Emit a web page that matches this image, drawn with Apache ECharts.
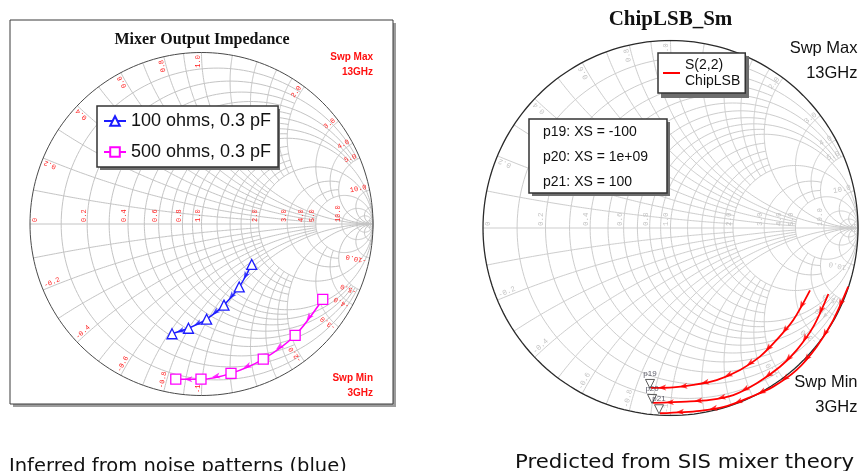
<!DOCTYPE html>
<html><head><meta charset="utf-8">
<script src="https://cdn.jsdelivr.net/npm/echarts@6/dist/echarts.min.js"></script>
<style>html,body{margin:0;padding:0;background:#fff}#c{width:860px;height:471px}</style>
</head><body><div id="c"></div>
<script>
// ---------------- data: reflection coefficient (Re, Im) ----------------
const blueRe = [0.293, 0.220, 0.131, 0.030, -0.076, -0.172];
const blueIm = [-0.236, -0.367, -0.473, -0.555, -0.608, -0.640];
const magRe  = [0.707, 0.546, 0.360, 0.172, -0.003, -0.150];
const magIm  = [-0.439, -0.649, -0.788, -0.871, -0.905, -0.905];
const s22aRe = [0.744, 0.655, 0.566, 0.477, 0.371, 0.246, 0.122, 0.015, -0.104];
const s22aIm = [-0.333, -0.491, -0.597, -0.686, -0.757, -0.811, -0.837, -0.850, -0.853];
const s22bRe = [0.842, 0.762, 0.673, 0.584, 0.460, 0.335, 0.211, 0.086, -0.093];
const s22bIm = [-0.352, -0.526, -0.651, -0.740, -0.828, -0.891, -0.917, -0.926, -0.933];
const s22cRe = [0.948, 0.868, 0.780, 0.673, 0.548, 0.424, 0.300, 0.157, -0.056];
const s22cIm = [-0.313, -0.491, -0.633, -0.757, -0.846, -0.903, -0.950, -0.975, -0.988];
const markerNames = ['p19', 'p20', 'p21'];
const markerTexts = ['p19: XS = -100', 'p20: XS = 1e+09', 'p21: XS = 100'];
const leftSeriesNames = ['100 ohms, 0.3 pF', '500 ohms, 0.3 pF'];
const rightSeriesName = 'S(2,2)\nChipLSB';

// Smith chart grid values (normalised r and x) and the extent each line is drawn to
const gridVals = [0.1, 0.2, 0.3, 0.4, 0.5, 0.6, 0.7, 0.8, 0.9, 1, 1.2, 1.4, 1.6, 1.8, 2, 3, 4, 5, 10, 20, 50];
const gridLims = [2, 5, 2, 5, 2, 5, 2, 5, 2, Infinity, 2, 2, 2, 2, Infinity, 5, 5, Infinity, Infinity, Infinity, Infinity];
// tick labels
const axisTickVals = [0, 0.2, 0.4, 0.6, 0.8, 1, 2, 3, 4, 5, 10];
const axisTickText = ['0', '0.2', '0.4', '0.6', '0.8', '1.0', '2.0', '3.0', '4.0', '5.0', '10.0'];
const edgeTickVals = [0.2, 0.4, 0.6, 0.8, 1, 2, 3, 4, 5, 10];
const edgePosText = ['0.2', '0.4', '0.6', '0.8', '1.0', '2.0', '3.0', '4.0', '5.0', '10.0'];
const edgeNegText = ['-0.2', '-0.4', '-0.6', '-0.8', '-1', '-2.0', '-3.0', '-4.0', '-5.0', '-10.0'];

// ---------------- helpers ----------------
const pts = (re, im) => re.map((v, i) => [v, im[i]]);
function zToG(r, x) { const a = r + 1, d = a * a + x * x; return [(r * r + x * x - 1) / d, 2 * x / d]; }
function rCircle(r, lim) {
  const out = [];
  if (!isFinite(lim)) {
    const c = r / (1 + r), rad = 1 / (1 + r);
    for (let i = 0; i <= 200; i++) { const t = i / 200 * 2 * Math.PI; out.push([c + rad * Math.cos(t), rad * Math.sin(t)]); }
    return out;
  }
  const T = Math.atan(lim);
  for (let i = 0; i <= 140; i++) { const t = -T + 2 * T * i / 140; out.push(zToG(r, Math.tan(t))); }
  return out;
}
function xArc(x, lim) {
  const out = []; const T = isFinite(lim) ? Math.atan(lim) : Math.PI / 2 - 1e-6;
  for (let i = 0; i <= 140; i++) { const t = T * i / 140; out.push(zToG(Math.tan(t), x)); }
  return out;
}
function gridLines() {
  const items = [{ coords: [[-1, 0], [1, 0]] }];
  gridVals.forEach((v, i) => {
    items.push({ coords: rCircle(v, gridLims[i]) });
    items.push({ coords: xArc(v, gridLims[i]) });
    items.push({ coords: xArc(-v, gridLims[i]) });
  });
  return items;
}
function arrows(re, im) {
  const out = [];
  for (let i = 0; i < re.length - 1; i++) {
    const dx = re[i + 1] - re[i], dy = im[i + 1] - im[i];
    out.push({ value: [(re[i] + re[i + 1]) / 2, (im[i] + im[i + 1]) / 2], symbolRotate: Math.atan2(dy, dx) * 180 / Math.PI - 90 });
  }
  return out;
}
const ARROW = 'path://M5,0L10,12L5,9L0,12Z';

const chart = echarts.init(document.getElementById('c'), null, { renderer: 'canvas' });

const axisCommon = { type: 'value', min: -1, max: 1, show: false };
const BLUE = '#1c1cff', MAG = '#ff00ff', RED = '#ff0000';

const series = [
  { type: 'lines', coordinateSystem: 'cartesian2d', xAxisIndex: 0, yAxisIndex: 0, polyline: true, silent: true, z: 1,
    lineStyle: { color: '#c4c4c4', width: 1, opacity: 1 }, data: gridLines() },
  { type: 'lines', coordinateSystem: 'cartesian2d', xAxisIndex: 0, yAxisIndex: 0, polyline: true, silent: true, z: 1,
    lineStyle: { color: '#4a4a4a', width: 1, opacity: 1 }, data: [{ coords: rCircle(0, Infinity) }] },
  { type: 'lines', coordinateSystem: 'cartesian2d', xAxisIndex: 1, yAxisIndex: 1, polyline: true, silent: true, z: 1,
    lineStyle: { color: '#cdcdcd', width: 1, opacity: 1 }, data: gridLines() },
  { type: 'lines', coordinateSystem: 'cartesian2d', xAxisIndex: 1, yAxisIndex: 1, polyline: true, silent: true, z: 1,
    lineStyle: { color: '#2a2a2a', width: 1.3, opacity: 1 }, data: [{ coords: rCircle(0, Infinity) }] },

  { name: leftSeriesNames[0], type: 'line', xAxisIndex: 0, yAxisIndex: 0, data: pts(blueRe, blueIm), smooth: 0.3,
    symbol: 'triangle', symbolSize: 10, z: 5,
    lineStyle: { color: BLUE, width: 1.5 }, itemStyle: { color: '#fff', borderColor: BLUE, borderWidth: 1.3 } },
  { type: 'scatter', xAxisIndex: 0, yAxisIndex: 0, data: arrows(blueRe, blueIm), symbol: ARROW, symbolSize: [6, 8],
    itemStyle: { color: BLUE }, silent: true, z: 6 },
  { name: leftSeriesNames[1], type: 'line', xAxisIndex: 0, yAxisIndex: 0, data: pts(magRe, magIm), smooth: 0.3,
    symbol: 'rect', symbolSize: 10, z: 5,
    lineStyle: { color: MAG, width: 1.5 }, itemStyle: { color: '#fff', borderColor: MAG, borderWidth: 1.3 } },
  { type: 'scatter', xAxisIndex: 0, yAxisIndex: 0, data: arrows(magRe, magIm), symbol: ARROW, symbolSize: [6, 8],
    itemStyle: { color: MAG }, silent: true, z: 6 }
];
[[s22aRe, s22aIm], [s22bRe, s22bIm], [s22cRe, s22cIm]].forEach(([re, im], k) => {
  series.push({ name: rightSeriesName, type: 'line', xAxisIndex: 1, yAxisIndex: 1, data: pts(re, im), smooth: 0.3,
    symbol: 'none', z: 5, lineStyle: { color: RED, width: 1.8 }, itemStyle: { color: RED } });
  series.push({ type: 'scatter', xAxisIndex: 1, yAxisIndex: 1, data: arrows(re, im), symbol: ARROW, symbolSize: [6, 8],
    itemStyle: { color: RED }, silent: true, z: 6 });
  const n = re.length - 1;
  series.push({ type: 'scatter', xAxisIndex: 1, yAxisIndex: 1, data: [[re[n], im[n]]], symbol: 'triangle', symbolRotate: 180,
    symbolSize: 9, symbolOffset: [-1, -4], silent: true, z: 7,
    itemStyle: { color: 'rgba(255,255,255,0.3)', borderColor: '#333', borderWidth: 1 },
    label: { show: true, position: 'top', distance: 1, formatter: markerNames[k], fontSize: 8, color: '#334', fontFamily: 'Liberation Sans' } });
});

chart.setOption({
  animation: false,
  backgroundColor: '#fff',
  grid: [
    { left: 30, top: 52.5, width: 343, height: 343 },
    { left: 483, top: 40.5, width: 375, height: 375 }
  ],
  xAxis: [Object.assign({ gridIndex: 0 }, axisCommon), Object.assign({ gridIndex: 1 }, axisCommon)],
  yAxis: [Object.assign({ gridIndex: 0 }, axisCommon), Object.assign({ gridIndex: 1 }, axisCommon)],
  legend: [
    { data: leftSeriesNames, orient: 'vertical', left: 97, top: 106, z: 20,
      backgroundColor: '#fff', borderColor: '#333', borderWidth: 1.5,
      padding: [6, 7, 6, 6], itemGap: 13, itemWidth: 22, itemHeight: 12,
      textStyle: { fontSize: 18, fontFamily: 'Liberation Sans', color: '#111' } },
    { data: [{ name: rightSeriesName, icon: 'rect' }], orient: 'vertical', left: 658, top: 53, z: 20,
      backgroundColor: '#fff', borderColor: '#333', borderWidth: 1.5,
      padding: [4, 5, 4, 5], itemWidth: 17, itemHeight: 2,
      textStyle: { fontSize: 14, lineHeight: 16, fontFamily: 'Liberation Sans', color: '#111' } }
  ],
  series: series
});

// ---------------- texts (labels placed through the chart's own coordinate conversion) ----------------
function gridTextEls(gi, color, fs) {
  const els = [];
  const font = { fontSize: fs, fontFamily: 'Liberation Mono' };
  axisTickVals.forEach((r, i) => {
    const p = chart.convertToPixel({ gridIndex: gi }, [(r - 1) / (r + 1), 0]);
    els.push({ type: 'text', x: p[0] + (r === 0 ? 9 : 0), y: p[1] - 2, rotation: Math.PI / 2, silent: true, z: 3,
      style: Object.assign({ text: axisTickText[i], fill: color, align: 'left', verticalAlign: 'bottom' }, font) });
  });
  edgeTickVals.forEach((v, i) => {
    [1, -1].forEach(s => {
      const g = zToG(0, s * v); const th = Math.atan2(g[1], g[0]);
      const p = chart.convertToPixel({ gridIndex: gi }, [0.985 * Math.cos(th), 0.985 * Math.sin(th)]);
      els.push({ type: 'text', x: p[0], y: p[1], rotation: s > 0 ? th : th + Math.PI, silent: true, z: 3,
        style: Object.assign({ text: s > 0 ? edgePosText[i] : edgeNegText[i], fill: color,
          align: s > 0 ? 'right' : 'left', verticalAlign: 'bottom' }, font) });
    });
  });
  return els;
}

const txt = (text, x, y, style, extra) => Object.assign({ type: 'text', x: x, y: y, silent: true, z: 30,
  style: Object.assign({ text: text, fill: '#111', verticalAlign: 'middle' }, style) }, extra || {});

const graphics = [
  { type: 'rect', shape: { x: 13, y: 23, width: 383, height: 384 }, style: { fill: '#9c9c9c' }, z: -20, silent: true },
  { type: 'rect', shape: { x: 10, y: 20, width: 383, height: 384 }, style: { fill: '#fff', stroke: '#3a3a3a', lineWidth: 1 }, z: -19, silent: true },
  // legend drop shadows
  { type: 'rect', shape: { x: 100, y: 109, width: 180, height: 61 }, style: { fill: '#6e6e6e' }, z: 19, silent: true },
  { type: 'rect', shape: { x: 661, y: 56, width: 88, height: 42 }, style: { fill: '#6e6e6e' }, z: 19, silent: true },
  txt('Mixer Output Impedance', 202, 39.5, { align: 'center', fontSize: 16, fontWeight: 'bold', fontFamily: 'Liberation Serif' }),
  txt('ChipLSB_Sm', 670.5, 20, { align: 'center', fontSize: 21, fontWeight: 'bold', fontFamily: 'Liberation Serif' }),
  txt('Swp Max', 373, 57.5, { align: 'right', fontSize: 10, fontWeight: 'bold', fontFamily: 'Liberation Sans', fill: '#ff1010' }),
  txt('13GHz', 373, 72.5, { align: 'right', fontSize: 10, fontWeight: 'bold', fontFamily: 'Liberation Sans', fill: '#ff1010' }),
  txt('Swp Min', 373, 378.5, { align: 'right', fontSize: 10, fontWeight: 'bold', fontFamily: 'Liberation Sans', fill: '#ff1010' }),
  txt('3GHz', 373, 392.8, { align: 'right', fontSize: 10, fontWeight: 'bold', fontFamily: 'Liberation Sans', fill: '#ff1010' }),
  txt('Swp Max', 857.5, 48.7, { align: 'right', fontSize: 16.5, fontFamily: 'Liberation Sans' }),
  txt('13GHz', 857.5, 73.7, { align: 'right', fontSize: 16.5, fontFamily: 'Liberation Sans' }),
  txt('Swp Min', 857.5, 382.7, { align: 'right', fontSize: 16.5, fontFamily: 'Liberation Sans' }),
  txt('3GHz', 857.5, 407.7, { align: 'right', fontSize: 16.5, fontFamily: 'Liberation Sans' }),
  { type: 'rect', shape: { x: 532, y: 122, width: 138, height: 74 }, style: { fill: '#6e6e6e' }, z: 28, silent: true },
  { type: 'rect', shape: { x: 529, y: 119, width: 138, height: 74 }, style: { fill: '#fff', stroke: '#333', lineWidth: 1.5 }, z: 29, silent: true },
  txt(markerTexts[0], 543, 132, { fontSize: 14, fontFamily: 'Liberation Sans' }),
  txt(markerTexts[1], 543, 157, { fontSize: 14, fontFamily: 'Liberation Sans' }),
  txt(markerTexts[2], 543, 182, { fontSize: 14, fontFamily: 'Liberation Sans' }),
  txt('Inferred from noise patterns (blue)', 9, 467.3, { fontSize: 19.5, fontFamily: 'DejaVu Sans' }),
  txt('Predicted from SIS mixer theory', 515, 463.3, { fontSize: 19.5, fontFamily: 'DejaVu Sans' }, { scaleX: 1.09 })
].concat(gridTextEls(0, '#ff2020', 7), gridTextEls(1, '#c4c4c4', 7.5));

chart.setOption({ graphic: { elements: graphics } });
</script>
</body></html>
